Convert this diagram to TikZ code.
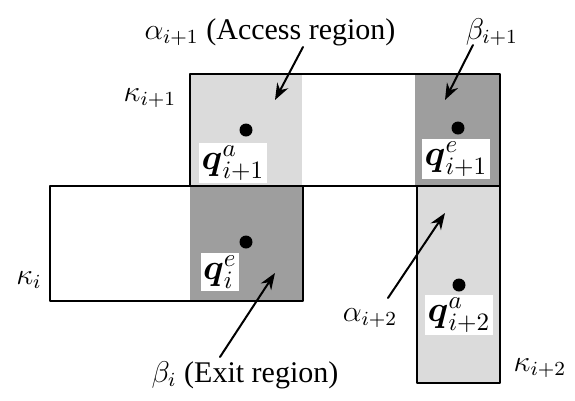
\documentclass[tikz,border=0pt]{standalone}
\usepackage{amsfonts,amsmath,amssymb}
\usepackage{fontspec}
\setmainfont{Liberation Serif}
\usetikzlibrary{arrows.meta}
\definecolor{access}{gray}{0.86}
\definecolor{exit}{gray}{0.62}
\tikzset{
  every picture/.style={font=\large, line join=round, line cap=round, >=Stealth},
  region/.style={line width=1pt},
  qlabel/.style={fill=white, inner sep=1pt, font=\Large},
  pt/.style={fill=black},
}
\begin{document}
\begin{tikzpicture}[x=0.4pt,y=-0.4pt]
\useasboundingbox (0,0) rectangle (575,401);
% shaded regions
\fill[access](190,74) rectangle (302,186);
\fill[exit](415,74) rectangle (500,186);
\fill[exit](190,186) rectangle (303,301);
\fill[access](417,186) rectangle (500,383);
% the boxes kappa
\draw[region](190,74) rectangle (500,186);
\draw[region](50,186) rectangle (303,301);
\draw[region](417,186) rectangle (500,383);
% points and their labels
\fill[pt](246,130) circle (6.5);
\fill[pt](458,128) circle (6.5);
\fill[pt](246,242) circle (6.5);
\fill[pt](459,285) circle (6.5);
\node[qlabel](qa1) at (233,163) {$\boldsymbol{q}^{a}_{i+1}$};
\node[qlabel](qe1) at (456,159) {$\boldsymbol{q}^{e}_{i+1}$};
\node[qlabel](qe0) at (220,272) {$\boldsymbol{q}^{e}_{i}$};
\node[qlabel](qa2) at (459,315) {$\boldsymbol{q}^{a}_{i+2}$};
% box names
\node(k1) at (150,98) {$\kappa_{i+1}$};
\node(k0) at (29,280) {$\kappa_{i}$};
\node(k2) at (540,368) {$\kappa_{i+2}$};
% region names
\node(a1) at (270,32) {$\alpha_{i+1}$ (Access region)};
\node(b1) at (492,32) {$\beta_{i+1}$};
\node(b0) at (245,375) {$\beta_{i}$ (Exit region)};
\node(a2) at (370,318) {$\alpha_{i+2}$};
\coordinate(a1t) at (303,47);
\coordinate(a1h) at (275,100);
\coordinate(b1t) at (473,45);
\coordinate(b1h) at (445,100);
\coordinate(b0t) at (220,357);
\coordinate(b0h) at (275,273);
\coordinate(a2t) at (388,298);
\coordinate(a2h) at (445,213);
\draw[->,line width=0.8pt](a1t)--(a1h);
\draw[->,line width=0.8pt](b1t)--(b1h);
\draw[->,line width=0.8pt](b0t)--(b0h);
\draw[->,line width=0.8pt](a2t)--(a2h);
\end{tikzpicture}
\end{document}
